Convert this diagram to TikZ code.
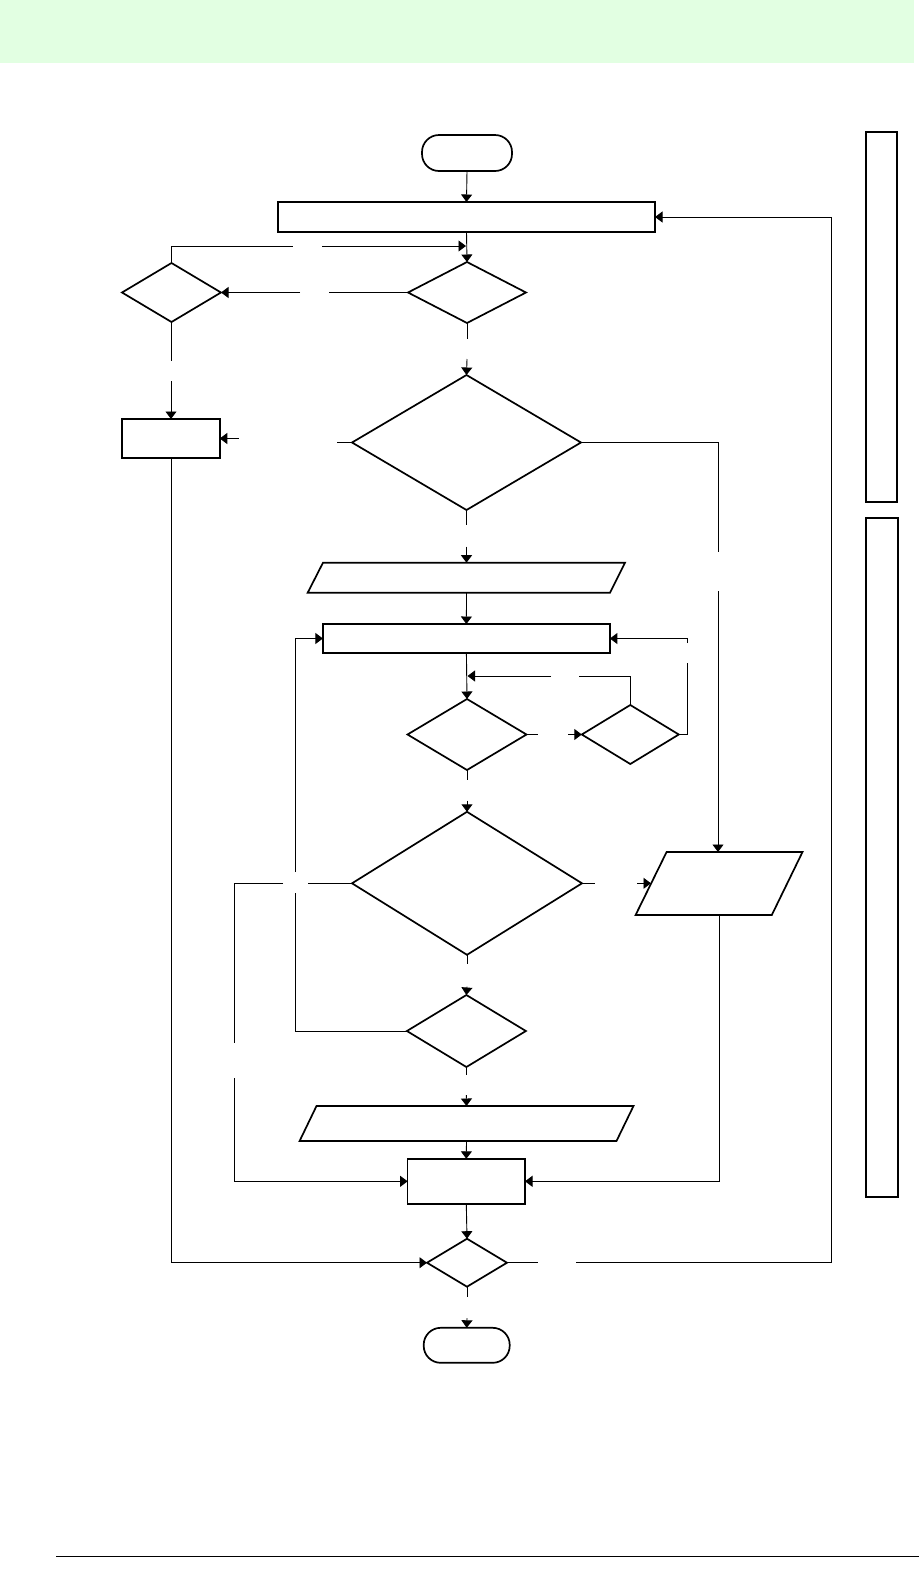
\documentclass[tikz,border=0pt]{standalone}
\usetikzlibrary{shapes.geometric,arrows.meta}
\definecolor{bandgreen}{RGB}{226,255,226}
\begin{document}
\begin{tikzpicture}[x=1pt,y=-1pt,
  shp/.style={draw=black,line width=1.7pt,inner sep=0pt,outer sep=0pt},
  boxn/.style={shp,rectangle,minimum width=#1},
  dia/.style={shp,diamond},
  term/.style={shp,rectangle,rounded corners=17pt},
  ghost/.style={rectangle,inner sep=0pt,outer sep=0pt},
  con/.style={draw=black,line width=0.9pt},
  arr/.style={con,-{Triangle[length=7.5pt,width=11pt]}},
  side/.style={draw=black,line width=1.3pt}]
\useasboundingbox (0,0) rectangle (919,1583);
\fill[bandgreen] (0,0) rectangle (914,63);
% side bars
\draw[side] (866,132) rectangle (897,502);
\draw[side] (866,518) rectangle (898,1197);
% bottom rule
\draw[line width=1pt] (56,1556) -- (919,1556);

% nodes
\node[term,minimum width=90pt,minimum height=36pt] (T1) at (467,153) {};
\node[boxn=377pt,minimum height=30pt] (R1) at (466.5,217) {};
\node[dia,minimum width=118pt,minimum height=61pt] (D1) at (467,292.5) {};
\node[dia,minimum width=99pt,minimum height=59pt] (DL) at (171.5,292.5) {};
\node[dia,minimum width=229pt,minimum height=135pt] (D2) at (466.5,442.5) {};
\node[boxn=97.5pt,minimum height=39pt] (RL) at (171,438.5) {};
\node[ghost,minimum width=300pt,minimum height=30pt] (P1) at (466.5,577.7) {};
\draw[shp] (323,562.7) -- (625,562.7) -- (610,592.7) -- (307.7,592.7) -- cycle;
\node[boxn=287pt,minimum height=29pt] (R2) at (466.4,638.5) {};
\node[dia,minimum width=119pt,minimum height=71pt] (D3) at (467,734.5) {};
\node[dia,minimum width=97pt,minimum height=59pt] (D4) at (630.3,734.5) {};
\node[dia,minimum width=230pt,minimum height=143pt] (D6) at (467,883.3) {};
\node[ghost,minimum width=136pt,minimum height=63pt] (P2) at (719,883.5) {};
\draw[shp] (666.6,852) -- (802.5,852) -- (771.8,915) -- (635.6,915) -- cycle;
\coordinate (P2w) at (651,883.3);
\node[dia,minimum width=119pt,minimum height=72pt] (D5) at (466.4,1031) {};
\node[ghost,minimum width=317pt,minimum height=35pt] (P3) at (466.5,1123.5) {};
\draw[shp] (316.5,1106) -- (633.5,1106) -- (616.5,1141) -- (299.6,1141) -- cycle;
\node[boxn=117.4pt,minimum height=45pt] (R3) at (466.3,1181.3) {};
\node[dia,minimum width=80pt,minimum height=48pt] (D7) at (467,1262.7) {};
\node[term,minimum width=86pt,minimum height=35pt] (T2) at (466.7,1345.3) {};

% connectors
\draw[arr] (T1.south) -- (R1.north);
\draw[arr] (R1.south) -- (D1.north);
\draw[con] (DL.north) |- (293,246);
\draw[arr] (322,246) -- (466,246);
\draw[con] (D1.west) -- (329,292.5);
\draw[arr] (300,292.5) -- (DL.east);
\draw[con] (D1.south) -- (467,339);
\draw[arr] (467,359) -- (D2.north);
\draw[con] (DL.south) -- (171.5,361);
\draw[arr] (171,381) -- (RL.north);
\draw[con] (D2.west) -- (337,442.5);
\draw[arr] (238.6,438.5) -- (RL.east);
\draw[con] (D2.east) -| (718,552);
\draw[arr] (718,591) -- (718,852);
\draw[con] (D2.south) -- (466.5,525);
\draw[arr] (466.5,546.7) -- (P1.north);
\draw[arr] (P1.south) -- (R2.north);
\draw[arr] (R2.south) -- (D3.north);
\draw[con] (D4.north) |- (579,676);
\draw[arr] (551,676) -- (467.5,676);
\draw[con] (D3.east) -- (538,734.5);
\draw[arr] (568,734.5) -- (D4.west);
\draw[con] (D4.east) -| (687.5,663);
\draw[arr] (687.5,643) |- (R2.east);
\draw[con] (D5.west) -| (295.5,893);
\draw[arr] (295.5,872) |- (R2.west);
\draw[con] (D3.south) -- (467,780);
\draw[arr] (467,800.7) -- (D6.north);
\draw[con] (D6.west) -- (308,883.3);
\draw[con] (283,883.3) -| (234.5,1043);
\draw[arr] (234.5,1078) |- (R3.west);
\draw[con] (D6.east) -- (595,883.3);
\draw[arr] (637,883.3) -- (P2w);
\draw[con] (D6.south) -- (467,964.3);
\draw[arr] (467,986.7) -- (D5.north);
\draw[con] (D5.south) -- (466.4,1075);
\draw[arr] (466.4,1095) -- (P3.north);
\draw[arr] (P3.south) -- (R3.north);
\draw[arr] (P2.south) |- (R3.east);
\draw[arr] (R3.south) -- (D7.north);
\draw[arr] (RL.south) |- (D7.west);
\draw[con] (D7.east) -- (537.5,1262.7);
\draw[arr] (576.3,1262.7) -| (831.7,217) -- (R1.east);
\draw[con] (D7.south) -- (467,1297);
\draw[arr] (467,1318) -- (T2.north);
\end{tikzpicture}
\end{document}
